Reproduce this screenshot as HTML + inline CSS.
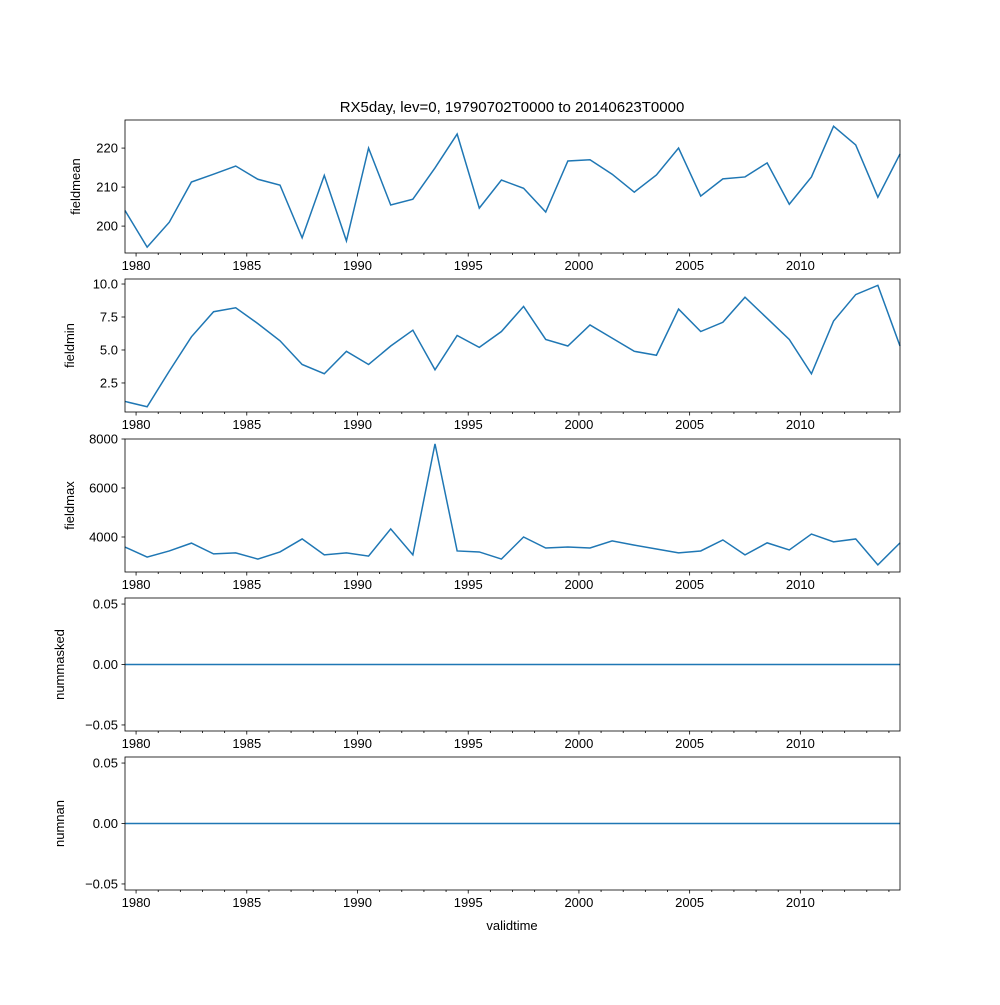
<!DOCTYPE html>
<html><head><meta charset="utf-8"><style>
body{margin:0;background:#fff;}
svg text{font-family:"Liberation Sans","DejaVu Sans",sans-serif;font-size:13px;fill:#000;}
</style></head><body>
<svg id="chart" width="1000" height="1000" viewBox="0 0 1000 1000">
<rect width="1000" height="1000" fill="#fff"/>
<text x="512" y="112" text-anchor="middle" style="font-size:15px">RX5day, lev=0, 19790702T0000 to 20140623T0000</text>
<text x="512" y="930" text-anchor="middle">validtime</text>
</svg>
<script>
const years = [1979,1980,1981,1982,1983,1984,1985,1986,1987,1988,1989,1990,1991,1992,1993,1994,1995,1996,1997,1998,1999,2000,2001,2002,2003,2004,2005,2006,2007,2008,2009,2010,2011,2012,2013,2014];
const fieldmean = [204,194.6,201,211.3,213.3,215.4,212,210.5,197,213,196.2,220,205.4,206.9,214.9,223.6,204.6,211.8,209.7,203.6,216.7,217,213.3,208.7,213.1,220,207.7,212.1,212.6,216.2,205.6,212.6,225.6,220.8,207.4,218.5];
const fieldmin = [1.1,0.7,3.4,6.0,7.9,8.2,7.0,5.7,3.9,3.2,4.9,3.9,5.3,6.5,3.5,6.1,5.2,6.4,8.3,5.8,5.3,6.9,5.9,4.9,4.6,8.1,6.4,7.1,9.0,7.4,5.8,3.2,7.2,9.2,9.9,5.3];
const fieldmax = [3590,3180,3430,3750,3310,3350,3100,3390,3920,3270,3350,3220,4330,3270,7800,3430,3390,3100,4000,3550,3590,3550,3840,3670,3510,3350,3430,3880,3270,3760,3470,4120,3800,3920,2860,3760];
const nummasked = years.map(()=>0);
const numnan = years.map(()=>0);
const xTicks = [1980,1985,1990,1995,2000,2005,2010];
const panels = [
 {name:'fieldmean',data:fieldmean,top:120,min:193.1,max:227.2,ticks:[200,210,220],labels:['200','210','220']},
 {name:'fieldmin',data:fieldmin,top:279,min:0.3,max:10.38,ticks:[2.5,5,7.5,10],labels:['2.5','5.0','7.5','10.0']},
 {name:'fieldmax',data:fieldmax,top:439,min:2571,max:8000,ticks:[4000,6000,8000],labels:['4000','6000','8000']},
 {name:'nummasked',data:nummasked,top:598,min:-0.055,max:0.055,ticks:[-0.05,0,0.05],labels:['\u22120.05','0.00','0.05']},
 {name:'numnan',data:numnan,top:757,min:-0.055,max:0.055,ticks:[-0.05,0,0.05],labels:['\u22120.05','0.00','0.05']}
];
const NS='http://www.w3.org/2000/svg';
const svg=document.getElementById('chart');
const L=125,R=900,H=133;
const x0=1979.5,x1=2014.5;
function xs(t){return L+(t-x0)/(x1-x0)*(R-L);}
function mk(tag,attrs,parent){const e=document.createElementNS(NS,tag);for(const k in attrs)e.setAttribute(k,attrs[k]);(parent||svg).appendChild(e);return e;}
panels.forEach(p=>{
 const g=mk('g',{});
 
 
 const ys=v=>p.top+H-(v-p.min)/(p.max-p.min)*H;
 const pts=p.data.map((v,i)=>xs(years[i]+0.5)+','+ys(v).toFixed(2)).join(' ');
 const line=mk('polyline',{points:pts,fill:'none',stroke:'#1f77b4','stroke-width':1.5},g);
 
 
 const fr=mk('rect',{x:L,y:p.top,width:R-L,height:H,fill:'none',stroke:'#000','stroke-width':0.8},g);
 
 
 for(let y=1980;y<=2014;y++){
  const major=xTicks.includes(y);
  mk('line',{x1:xs(y),x2:xs(y),y1:p.top+H,y2:p.top+H+(major?3.5:2),stroke:'#000','stroke-width':0.8},g);
 }
 xTicks.forEach(t=>{
  const tx=mk('text',{x:xs(t),y:p.top+H+17,'text-anchor':'middle'},g);
  tx.textContent=t;
  
  
 });
 p.ticks.forEach((t,i)=>{
  const y=ys(t);
  mk('line',{x1:L-3.5,x2:L,y1:y,y2:y,stroke:'#000','stroke-width':0.8},g);
  const tx=mk('text',{x:L-7,y:y+4.5,'text-anchor':'end'},g);
  tx.textContent=p.labels[i];
  
  
 });
 const lblX = p.labels[0].length>4||p.labels[p.labels.length-1].length>3 ? (p.labels.some(s=>s.length>=5)?64:74) : 80;
 const yl=mk('text',{x:0,y:0,'text-anchor':'middle',transform:`translate(${lblX},${p.top+H/2}) rotate(-90)`},g);
 yl.textContent=p.name;
 
 
});
</script>
</body></html>
